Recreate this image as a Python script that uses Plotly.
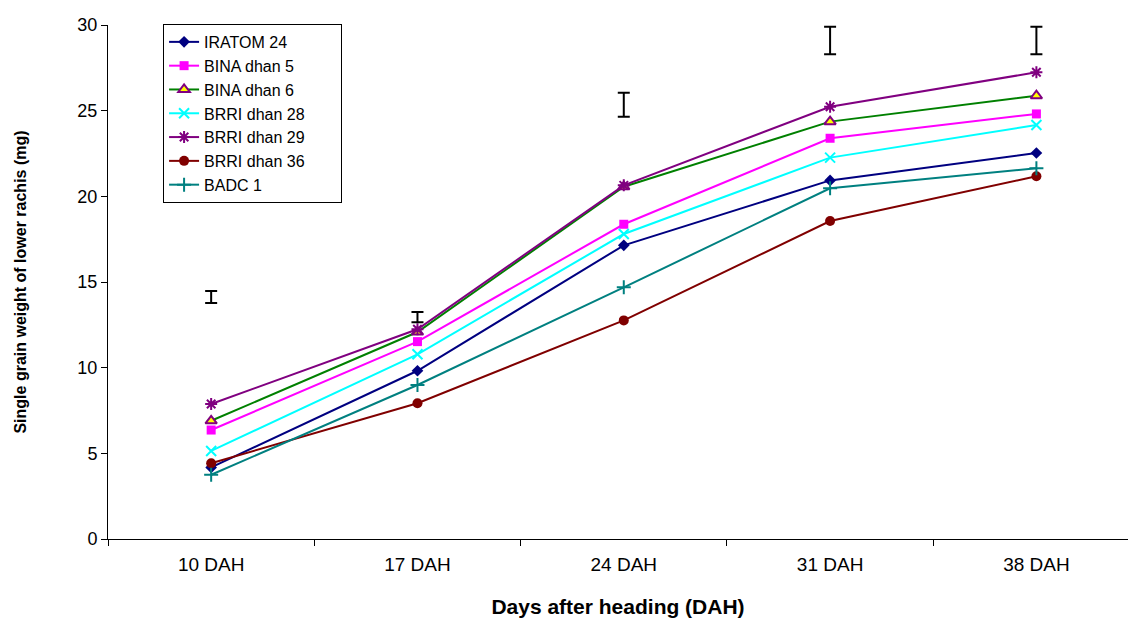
import plotly.graph_objects as go

# Sampling stages
stages = ["10 DAH", "17 DAH", "24 DAH", "31 DAH", "38 DAH"]

# Single grain weight of lower rachis (mg) per variety
iratom_24 = [4.18, 9.82, 17.14, 20.93, 22.53]
bina_dhan_5 = [6.36, 11.52, 18.37, 23.39, 24.81]
bina_dhan_6 = [6.90, 12.08, 20.56, 24.36, 25.87]
brri_dhan_28 = [5.14, 10.78, 17.80, 22.26, 24.16]
brri_dhan_29 = [7.88, 12.24, 20.64, 25.23, 27.24]
brri_dhan_36 = [4.42, 7.92, 12.76, 18.56, 21.17]
badc_1 = [3.75, 8.99, 14.69, 20.47, 21.64]

# LSD bars drawn above each stage
lsd_centre = [14.12, 12.95, 25.35, 29.10, 29.10]
lsd_half = [0.35, 0.30, 0.70, 0.80, 0.80]

series = [
    ("IRATOM 24", iratom_24, "#000080", dict(symbol="diamond", size=9, color="#000080")),
    ("BINA dhan 5", bina_dhan_5, "#FF00FF", dict(symbol="square", size=9, color="#FF00FF")),
    ("BINA dhan 6", bina_dhan_6, "#008000",
     dict(symbol="triangle-up", size=10, color="#FFFF00", line=dict(color="#800080", width=2))),
    ("BRRI dhan 28", brri_dhan_28, "#00FFFF",
     dict(symbol="x-thin-open", size=10, color="#00FFFF", line=dict(color="#00FFFF", width=2))),
    ("BRRI dhan 29", brri_dhan_29, "#800080",
     dict(symbol="asterisk-open", size=10, color="#800080", line=dict(color="#800080", width=2))),
    ("BRRI dhan 36", brri_dhan_36, "#800000", dict(symbol="circle", size=10, color="#800000")),
    ("BADC 1", badc_1, "#008080",
     dict(symbol="cross-thin-open", size=10, color="#008080", line=dict(color="#008080", width=2))),
]

# trailing non-breaking spaces give the legend box some right-hand room
pad = "\u00a0" * 7

fig = go.Figure()
for name, vals, col, mk in series:
    fig.add_trace(go.Scatter(
        x=stages, y=vals, name=name + pad, mode="lines+markers",
        line=dict(color=col, width=2), marker=mk,
    ))

fig.add_trace(go.Scatter(
    x=stages, y=lsd_centre, mode="markers", showlegend=False,
    marker=dict(size=1, color="rgba(0,0,0,0)"),
    error_y=dict(type="data", array=lsd_half, color="black", thickness=2, width=6),
))

base = "Liberation Sans, Arial"

fig.update_layout(
    width=1128, height=623,
    margin=dict(l=108, r=0, t=25, b=84),
    paper_bgcolor="white", plot_bgcolor="white",
    showlegend=True,
    legend=dict(
        x=0.054, y=1.002, xanchor="left", yanchor="top",
        bordercolor="black", borderwidth=1, bgcolor="white",
        font=dict(family=base, size=16, color="black"),
        tracegroupgap=0,
    ),
    xaxis=dict(
        type="category", range=[-0.5, 4.444], tickson="boundaries",
        showline=True, linecolor="black", linewidth=1,
        ticks="outside", ticklen=6, tickcolor="black",
        showgrid=False, zeroline=False,
        tickfont=dict(family=base, size=19, color="black"),
        ticklabelstandoff=8,
        title=dict(text="<b>Days after heading (DAH)</b>",
                   font=dict(family=base, size=21, color="black"),
                   standoff=25),
    ),
    yaxis=dict(
        range=[0, 30], dtick=5,
        showline=True, linecolor="black", linewidth=1,
        ticks="outside", ticklen=6, tickcolor="black",
        showgrid=False, zeroline=False,
        tickfont=dict(family=base, size=18, color="black"),
        title=dict(text="<b>Single grain weight of lower rachis (mg)</b>",
                   font=dict(family=base, size=16, color="black"),
                   standoff=46),
    ),
)

fig.write_html("out.html")
